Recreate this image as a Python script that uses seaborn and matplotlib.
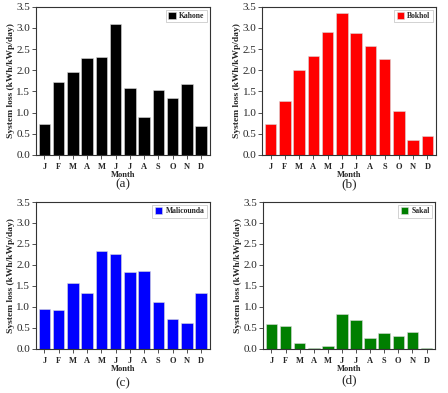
"""Monthly system loss for four PV sites, 2x2 bar panels."""

import matplotlib
matplotlib.use("Agg")
import matplotlib.pyplot as plt
from matplotlib.patches import Patch
import pandas as pd
import seaborn as sns

months = ["J", "F", "M", "A", "M", "J", "J", "A", "S", "O", "N", "D"]

kahone = [0.72, 1.72, 1.95, 2.28, 2.31, 3.10, 1.59, 0.90, 1.53, 1.34, 1.67, 0.69]
bokhol = [0.73, 1.27, 2.00, 2.33, 2.91, 3.35, 2.88, 2.57, 2.27, 1.03, 0.35, 0.45]
malicounda = [0.95, 0.93, 1.57, 1.34, 2.33, 2.26, 1.83, 1.85, 1.12, 0.71, 0.63, 1.34]
sakal = [0.60, 0.54, 0.14, 0.03, 0.06, 0.83, 0.70, 0.25, 0.39, 0.30, 0.41, 0.02]

sites = ["Kahone", "Bokhol", "Malicounda", "Sakal"]
series = [kahone, bokhol, malicounda, sakal]
colors = ["#000000", "#ff0000", "#0000ff", "#007f00"]
panel_tags = ["(a)", "(b)", "(c)", "(d)"]

# axes boxes in figure fractions [left, bottom, width, height]
boxes = [
    [0.080, 0.606, 0.388, 0.377],
    [0.585, 0.606, 0.388, 0.377],
    [0.080, 0.112, 0.388, 0.374],
    [0.587, 0.112, 0.384, 0.374],
]
# vertical position of the panel tags (figure fraction)
tag_y = [0.530, 0.530, 0.025, 0.032]

sns.set_style("ticks")
plt.rcParams["font.family"] = ["Liberation Serif", "DejaVu Serif"]

fig = plt.figure(figsize=(4.48, 3.93), dpi=100)

for site, vals, col, tag, box, ty in zip(sites, series, colors, panel_tags, boxes, tag_y):
    ax = fig.add_axes(box)
    df = pd.DataFrame({"idx": range(len(months)), "loss": vals})
    sns.barplot(data=df, x="idx", y="loss", color=col, saturation=1,
                width=0.82, edgecolor="#d9d9d9", linewidth=0.4, ax=ax)
    ax.set_ylim(0, 3.5)
    ax.set_yticks([i * 0.5 for i in range(8)])
    ax.set_yticklabels([f"{i * 0.5:.1f}" for i in range(8)], fontsize=8)
    ax.set_xticks(range(len(months)))
    ax.set_xticklabels(months, fontsize=6, fontweight="bold")
    ax.set_xlim(-0.6, 11.6)
    ax.set_xlabel("Month", fontsize=6, fontweight="bold", labelpad=0)
    ax.set_ylabel("System loss (kWh/kWp/day)", fontsize=6.8, fontweight="bold", labelpad=1)
    ax.tick_params(axis="both", length=3, width=0.6, color="#333333")
    ax.tick_params(axis="x", pad=3)
    ax.tick_params(axis="y", pad=1)
    for s in ax.spines.values():
        s.set_visible(True)
        s.set_linewidth(0.8)
        s.set_color("#333333")
    handle = Patch(facecolor=col, edgecolor="#d9d9d9", linewidth=0.4)
    leg = ax.legend([handle], [site], loc="upper right",
                    prop={"weight": "bold", "size": 5.5}, frameon=True,
                    fancybox=False, handlelength=1.0, handleheight=1.0,
                    handletextpad=0.4, borderpad=0.3, borderaxespad=0.4)
    leg.get_frame().set_edgecolor("#b0b0b0")
    leg.get_frame().set_linewidth(0.5)
    x_mid = box[0] + box[2] / 2
    fig.text(x_mid, ty, tag, ha="center", va="center", fontsize=9.5)

fig.savefig("out.png", dpi=100)
plt.close("all")
